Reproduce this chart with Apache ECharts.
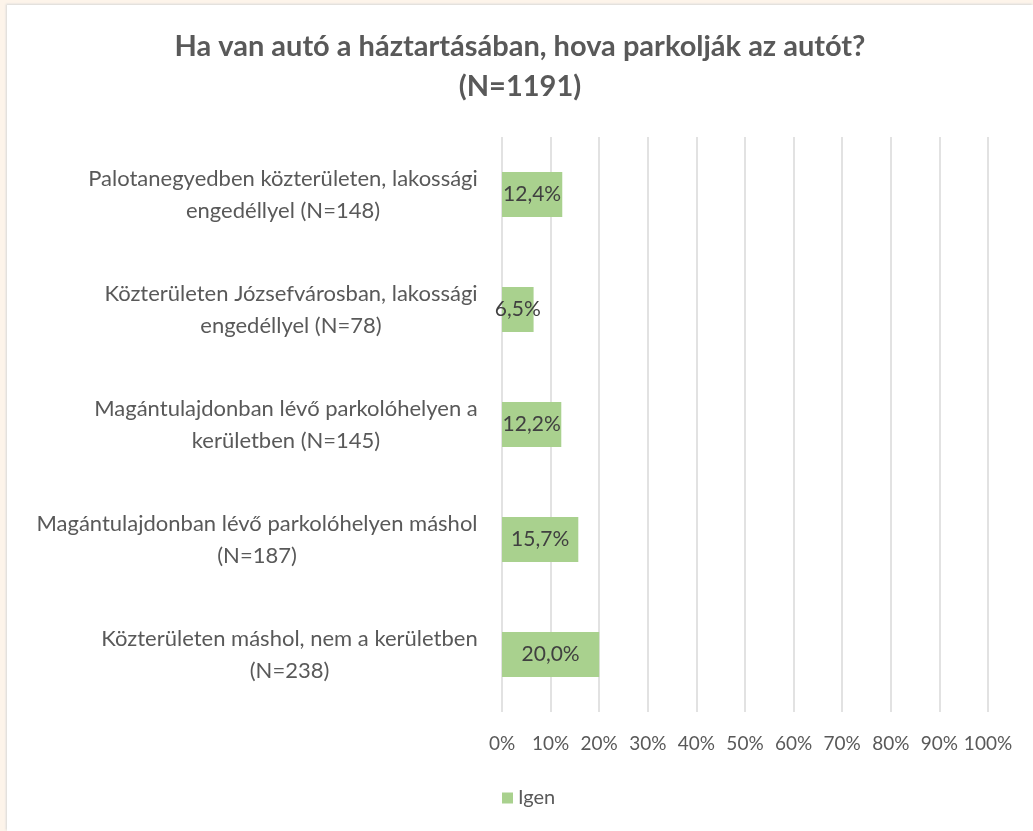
<!DOCTYPE html>
<html lang="hu">

<head>
    <meta charset="UTF-8">
    <title>Parkolás</title>
    <script src="https://cdn.jsdelivr.net/npm/echarts@6/dist/echarts.min.js"></script>
    <style>
        body,
        html {
            margin: 0;
            padding: 0;
            height: 100%;
            background: #fdf4ea;
        }

        #main {
            position: absolute;
            left: 7px;
            top: 5px;
            width: 1026px;
            height: 826px;
            background: #fff;
            box-shadow: -1px -1px 2px #d8d8d8;
        }
    </style>
</head>

<body>
    <div id="main"></div>
    <script>
        // adatok
        var categories = [
            'Palotanegyedben közterületen, lakossági\nengedéllyel (N=148)',
            'Közterületen Józsefvárosban, lakossági\nengedéllyel (N=78)',
            'Magántulajdonban lévő parkolóhelyen a\nkerületben (N=145)',
            'Magántulajdonban lévő parkolóhelyen máshol\n(N=187)',
            'Közterületen máshol, nem a kerületben\n(N=238)'
        ];
        var igen = [12.4, 6.5, 12.2, 15.7, 20.0];
        var seriesName = 'Igen';
        var titleText = 'Ha van autó a háztartásában, hova parkolják az autót?\n(N=1191)';

        var font = 'Lato';
        var labelSize = 22;
        var gray = '#595959';

        // minden címke sorai középre, a blokk jobbra igazítva (mint Excelben)
        var ctx = document.createElement('canvas').getContext('2d');
        ctx.font = labelSize + 'px ' + font;
        var rich = {};
        for (var i = 0; i < categories.length; i++) {
            var lines = categories[i].split('\n');
            var w = 0;
            for (var j = 0; j < lines.length; j++) {
                w = Math.max(w, ctx.measureText(lines[j]).width);
            }
            rich['r' + i] = {
                width: Math.ceil(w),
                align: 'center',
                fontSize: labelSize,
                fontFamily: font,
                color: gray,
                lineHeight: 32
            };
        }

        var myChart = echarts.init(document.getElementById('main'));
        var option = {
            animation: false,
            textStyle: { fontFamily: font },
            title: {
                text: titleText,
                left: 'center',
                top: 22,
                padding: 0,
                textStyle: {
                    fontSize: 29,
                    fontWeight: 'bold',
                    color: gray,
                    lineHeight: 40,
                    fontFamily: font
                }
            },
            legend: {
                left: 490,
                top: 778,
                itemWidth: 11,
                itemHeight: 11,
                itemGap: 10,
                icon: 'rect',
                data: [seriesName],
                textStyle: { fontSize: 20, color: gray, fontFamily: font }
            },
            grid: {
                left: 495,
                right: 45,
                top: 132,
                bottom: 119,
                containLabel: false
            },
            xAxis: {
                type: 'value',
                min: 0,
                max: 100,
                interval: 10,
                axisLine: { show: false },
                axisTick: { show: false },
                splitLine: { show: true, lineStyle: { color: '#d9d9d9', width: 1.5 } },
                axisLabel: {
                    formatter: '{value}%',
                    fontSize: 19,
                    color: gray,
                    margin: 22,
                    fontFamily: font
                }
            },
            yAxis: {
                type: 'category',
                inverse: true,
                data: categories,
                axisLine: { show: false },
                axisTick: { show: false },
                axisLabel: {
                    align: 'right',
                    margin: 24,
                    rich: rich,
                    formatter: function (value, index) {
                        return value.split('\n').map(function (l) {
                            return '{r' + index + '|' + l + '}';
                        }).join('\n');
                    }
                }
            },
            series: [{
                name: seriesName,
                type: 'bar',
                data: igen,
                barWidth: 45,
                itemStyle: { color: '#a9d18e' },
                label: {
                    show: true,
                    position: 'inside',
                    fontSize: 21,
                    color: '#404040',
                    fontFamily: font,
                    formatter: function (p) {
                        return p.value.toFixed(1).replace('.', ',') + '%';
                    }
                }
            }]
        };
        myChart.setOption(option);
    </script>
</body>

</html>
